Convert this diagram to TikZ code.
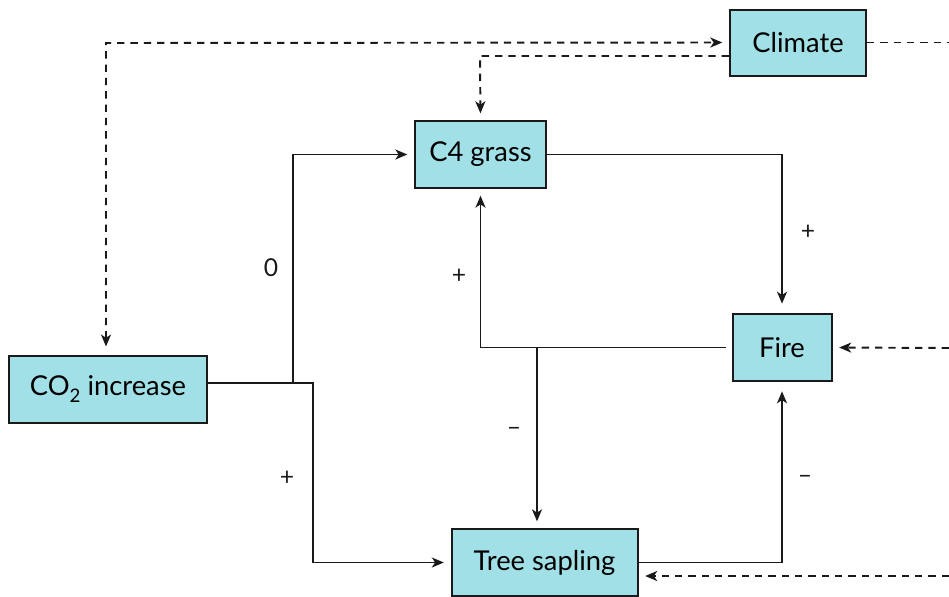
\documentclass[tikz,border=0pt]{standalone}
\usepackage{fontspec}
\setmainfont{Lato}
\usetikzlibrary{arrows.meta}
\definecolor{boxfill}{HTML}{A0E0E6}
\definecolor{ink}{HTML}{1A1A1A}
\begin{document}
\begin{tikzpicture}[x=0.75pt,y=-0.75pt,
  box/.style={draw=ink,fill=boxfill,line width=1.5pt,inner sep=0pt,font=\fontsize{20.5}{23}\selectfont},
  arr/.style={draw=ink,line width=1.45pt,-{Stealth[length=9pt,width=7.5pt,inset=2.5pt]},shorten >=5pt},
  darr/.style={draw=ink,line width=1.45pt,dash pattern=on 5.5pt off 4.5pt,-{Stealth[length=9pt,width=7.5pt,inset=2.5pt]},shorten >=5pt},
  dsh/.style={draw=ink,line width=1.45pt,dash pattern=on 5.5pt off 4.5pt},
  lbl/.style={font=\fontsize{18.5}{21}\selectfont,text=ink}]
\useasboundingbox (0,0) rectangle (949,596);
\clip (0,0) rectangle (949,596);
% nodes
\node[box,minimum width=102pt,minimum height=49.5pt] (Climate) at (798,42.5) {Climate};
\node[box,minimum width=98.25pt,minimum height=50.25pt] (C4) at (480.5,154.5) {C4 grass};
\node[box,minimum width=148.5pt,minimum height=50.25pt] (CO2) at (108,389) {CO\raisebox{-0.45ex}{\fontsize{14}{14}\selectfont 2} increase};
\node[box,minimum width=74.25pt,minimum height=50.25pt] (Fire) at (782,347.5) {Fire};
\node[box,minimum width=139.5pt,minimum height=50.25pt] (Tree) at (544.5,562.5) {\raisebox{-2pt}{Tree sapling}};
% coordinates
\coordinate (j1) at (293,383);
\coordinate (k1) at (313,383);
\coordinate (j2) at (537,348);
\coordinate (c1) at (480,56);
\coordinate (c2) at (106,43);
\coordinate (e1) at (949,42.5);
\coordinate (e2) at (949,348);
\coordinate (e3) at (949,576);
% solid connectors
\draw[arr] (CO2.east |- j1) -- (j1) |- (C4.west);
\draw[arr] (j1) -- (k1) |- (Tree.west);
\draw[arr,shorten >=7pt] (C4.east) -| (Fire.north);
\draw[arr,shorten <=4pt] (Fire.west) -| (C4.south);
\draw[arr] (j2) -- (j2 |- Tree.north);
\draw[arr,shorten >=7pt] (Tree.east) -| (Fire.south);
% dashed connectors
\draw[darr] (Climate.west |- c1) -- (c1) -- (C4.north);
\draw[darr,{Stealth[length=9pt,width=7.5pt,inset=2.5pt]}-{Stealth[length=9pt,width=7.5pt,inset=2.5pt]},shorten <=6pt] (c2 |- CO2.north) -- (c2) -- (Climate.west);
\draw[dsh] (Climate.east) -- (e1);
\draw[darr] (e2) -- (Fire.east);
\draw[darr] (e3) -- (Tree.east |- e3);
% labels
\node[lbl] (l0) at (271,268) {0};
\node[lbl] (l1) at (459,276) {+};
\node[lbl] (l2) at (808,232) {+};
\node[lbl] (l3) at (287,478) {+};
\node[lbl] (l4) at (514,431) {–};
\node[lbl] (l5) at (805,479) {–};
\end{tikzpicture}
\end{document}
